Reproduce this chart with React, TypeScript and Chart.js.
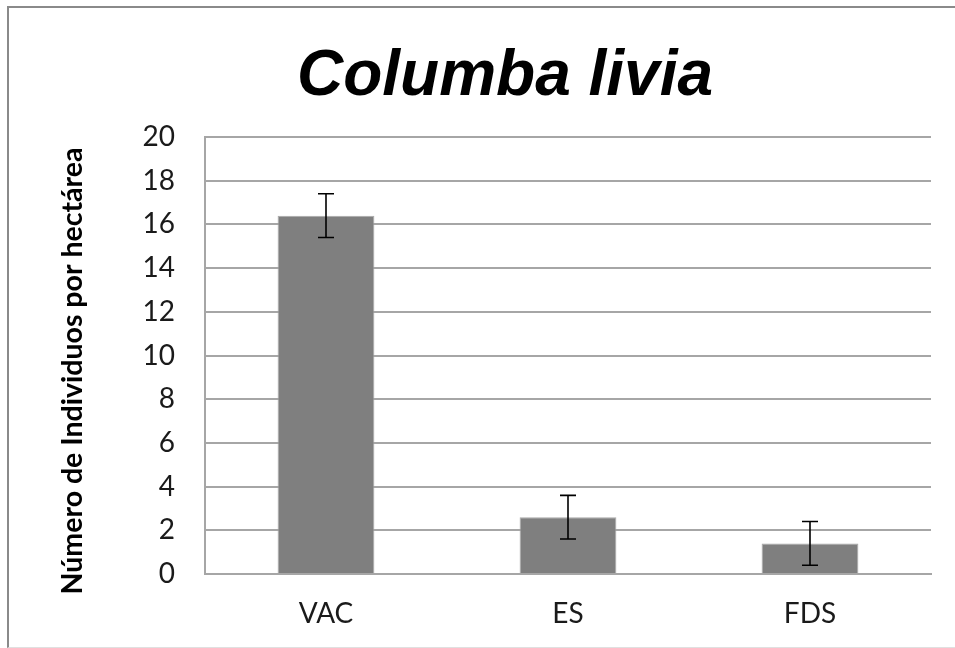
import React, { useEffect, useRef } from "react";
import { Chart, registerables } from "chart.js";

Chart.register(...registerables);

const categories = ["VAC", "ES", "FDS"];
const values = [16.4, 2.6, 1.4];
const errors = [1.0, 1.0, 1.0];
const titleText = "Columba livia";
const yTitle = "Número de Individuos por hectárea";

const errorBarPlugin = {
  id: "errorBars",
  afterDatasetsDraw(chart: any) {
    const ctx = chart.ctx;
    const meta = chart.getDatasetMeta(0);
    const y = chart.scales.y;
    ctx.save();
    ctx.strokeStyle = "#000000";
    ctx.lineWidth = 1.6;
    meta.data.forEach((bar: any, i: number) => {
      const v = values[i];
      const e = errors[i];
      const x = bar.x;
      const yt = y.getPixelForValue(v + e);
      const yb = y.getPixelForValue(v - e);
      const cap = 8;
      ctx.beginPath();
      ctx.moveTo(x, yt);
      ctx.lineTo(x, yb);
      ctx.moveTo(x - cap, yt);
      ctx.lineTo(x + cap, yt);
      ctx.moveTo(x - cap, yb);
      ctx.lineTo(x + cap, yb);
      ctx.stroke();
    });
    ctx.restore();
  },
};

const titlesPlugin = {
  id: "titles",
  afterDraw(chart: any) {
    const ctx = chart.ctx;
    ctx.save();
    ctx.fillStyle = "#000000";
    ctx.textAlign = "center";
    ctx.textBaseline = "alphabetic";
    ctx.font = "italic bold 64px 'Liberation Sans'";
    ctx.fillText(titleText, 505, 95);
    ctx.translate(82, 371);
    ctx.rotate(-Math.PI / 2);
    ctx.font = "bold 28.5px Lato";
    ctx.textBaseline = "alphabetic";
    ctx.fillText(yTitle, 0, 0);
    ctx.restore();
  },
};

export default function App() {
  const ref = useRef<HTMLCanvasElement>(null);
  useEffect(() => {
    document.body.style.margin = "0";
    const chart = new Chart(ref.current!, {
      type: "bar",
      data: {
        labels: categories,
        datasets: [
          {
            data: values,
            backgroundColor: "#7f7f7f",
            borderColor: "#a9a9a9",
            borderWidth: 1,
            categoryPercentage: 1,
            barPercentage: 0.4,
          },
        ],
      },
      options: {
        animation: false,
        responsive: false,
        layout: { padding: { left: 0, right: 24, top: 137, bottom: 0 } },
        plugins: {
          legend: { display: false },
          tooltip: { enabled: false },
          title: { display: false },
        },
        scales: {
          x: {
            grid: { display: false, drawTicks: false },
            border: { display: true, color: "#a6a6a6", width: 2 },
            ticks: { color: "#1a1a1a", font: { family: "Lato", size: 28 }, padding: 23 },
            afterFit: (s: any) => { s.height = 74; },
          },
          y: {
            min: 0,
            max: 20,
            ticks: { stepSize: 2, color: "#1a1a1a", font: { family: "Lato", size: 28 }, padding: 30 },
            grid: { color: "#a6a6a6", lineWidth: 2, drawTicks: false },
            border: { display: true, color: "#a6a6a6", width: 2 },
            afterFit: (s: any) => { s.width = 205; },
          },
        },
      },
      plugins: [errorBarPlugin, titlesPlugin],
    });
    return () => chart.destroy();
  }, []);
  return (
    <div style={{ position: "relative", width: 955, height: 648, background: "#ffffff", overflow: "hidden" }}>
      <canvas ref={ref} width={955} height={648} style={{ position: "absolute", left: 0, top: 0 }} />
      <div
        style={{
          position: "absolute",
          left: 7,
          top: 6,
          width: 1000,
          height: 639,
          borderTop: "2px solid #8a8a8a",
          borderLeft: "2px solid #8a8a8a",
          borderBottom: "1px solid #e0e0e0",
          pointerEvents: "none",
        }}
      />
    </div>
  );
}
